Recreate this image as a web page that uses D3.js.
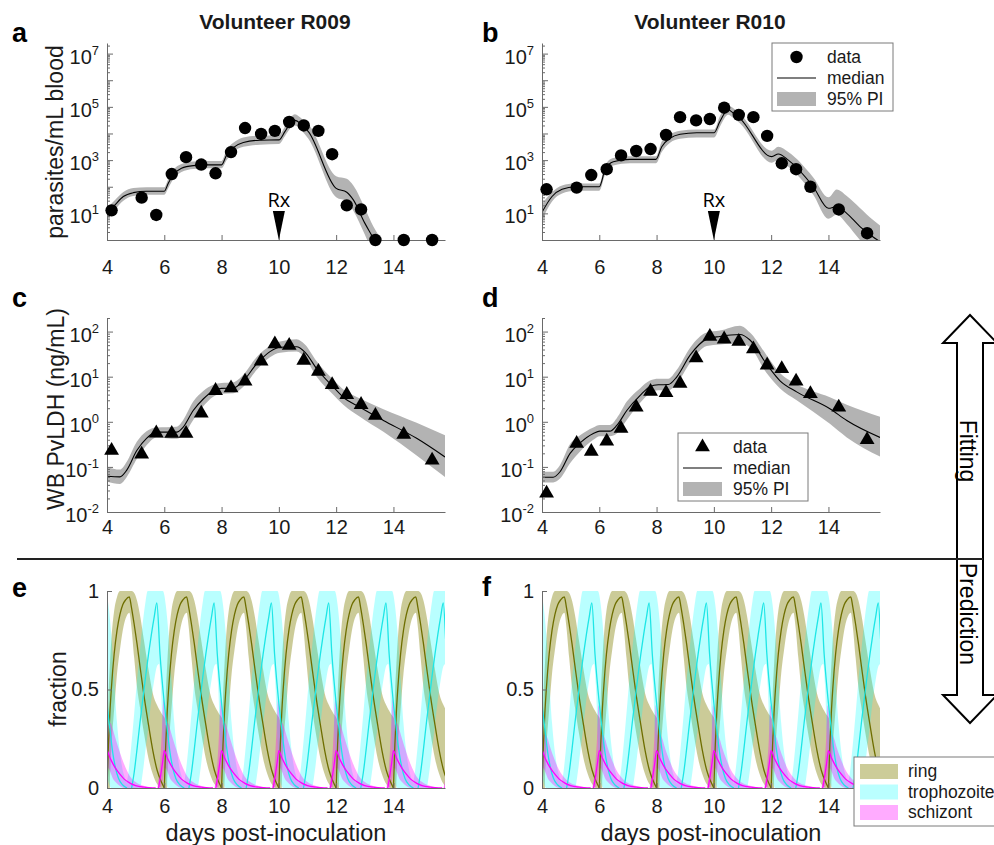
<!DOCTYPE html>
<html lang="en">
<head>
<meta charset="utf-8" />
<script src="https://cdnjs.cloudflare.com/ajax/libs/d3/7.8.5/d3.min.js"></script>
<style>
  body { margin: 0; background: #fff; }
</style>
</head>
<body>
<div id="chart"></div>
<script>
// ---------- data ----------
const dayTicks = [4, 6, 8, 10, 12, 14];
const dayRange = [4, 15.8];
const parRange = [1, 2.5e7];
const parTickVals = [1e1, 1e3, 1e5, 1e7];
const ldhRange = [0.01, 200];
const ldhTickVals = [1e-2, 1e-1, 1e0, 1e1, 1e2];
const fracTicks = [0, 0.5, 1];
const rxDay = 10;

// sampling days (both volunteers)
const sampleDays = [4.16, 5.21, 5.72, 6.26, 6.76, 7.29, 7.79, 8.33, 8.82, 9.38, 9.86, 10.36, 10.87, 11.38, 11.86, 12.37, 12.87, 13.37, 14.36, 15.35];

// parasites/mL blood
const r009Para = [13, 39, 8.7, 300, 1290, 680, 320, 2000, 16000, 9600, 12500, 27000, 20000, 12500, 1670, 20, 14, 1, 1, 1];
const r010Para = [80, 93, 275, 455, 1500, 2200, 2600, 8900, 41000, 31000, 35000, 93000, 50000, 41000, 8100, 760, 455, 100, 14, 1.8];

// WB PvLDH (ng/mL)
const r009Ldh = [0.23, 0.19, 0.56, 0.55, 0.55, 1.55, 4.9, 5.6, 7.9, 22, 53, 49, 23, 13, 6.6, 4, 2.4, 1.38, 0.52, 0.14];
const r010Ldh = [0.026, 0.33, 0.22, 0.37, 0.71, 2.1, 4.7, 4.4, 7.1, 26, 78, 68, 60, 41, 18, 15, 7.9, 4.2, 2.1, 0.4];

// model fits: median and 95% PI
const r009ParaFitDays = [4.0, 4.28, 4.57, 4.92, 5.38, 6.0, 6.14, 6.31, 6.6, 7.01, 7.48, 8.0, 8.18, 8.41, 8.76, 9.34, 10.0, 10.21, 10.45, 10.56, 10.8, 11.03, 12.0, 12.37, 12.6, 13.0, 13.3, 13.6];
const r009ParaMed = [10, 21, 43, 60, 68, 68, 135, 275, 490, 620, 660, 660, 1600, 2950, 4600, 5600, 5750, 11700, 28000, 31000, 21000, 11700, 87, 62, 32, 4.3, 1.15, 0.25];
const r009ParaLo = [6.3, 14, 30, 45, 50, 50, 89, 190, 355, 460, 490, 490, 1000, 2000, 3160, 3800, 4000, 7900, 17800, 20000, 12600, 6300, 40, 28, 12.6, 1.6, 0.3, 0.08];
const r009ParaHi = [16, 32, 63, 89, 95, 95, 200, 420, 710, 890, 930, 930, 2500, 4470, 7080, 8300, 8500, 17800, 44700, 52500, 35500, 22400, 250, 200, 112, 16, 3.2, 1.0];

const r010ParaFitDays = [4.0, 4.35, 4.7, 5.16, 6.0, 6.2, 6.49, 7.07, 7.98, 8.18, 8.47, 8.82, 9.4, 10.01, 10.21, 10.5, 10.68, 10.91, 12.02, 12.25, 12.6, 13.47, 14.0, 14.29, 14.64, 15.1, 15.56, 15.8];
const r010ParaMed = [11, 43, 80, 100, 100, 430, 870, 1070, 1070, 3200, 6600, 9300, 10700, 10700, 28000, 78000, 58000, 37000, 1350, 1700, 1000, 100, 15.5, 18, 10, 3.2, 1.3, 0.87];
const r010ParaLo = [5.6, 28, 56, 71, 71, 280, 630, 760, 760, 2000, 4470, 6300, 7080, 7080, 17800, 50000, 38000, 24000, 790, 1000, 560, 50, 6.3, 8.9, 4, 1, 0.32, 0.16];
const r010ParaHi = [22, 63, 112, 132, 132, 630, 1200, 1410, 1410, 5000, 9300, 12600, 14100, 14100, 44700, 112000, 89000, 56000, 2240, 3160, 2000, 224, 40, 79, 45, 16, 5.6, 3.5];

const r009LdhFitDays = [4.0, 4.45, 4.69, 5.04, 5.38, 5.73, 6.43, 6.66, 7.01, 7.36, 7.71, 8.0, 8.41, 8.76, 9.22, 9.69, 10.04, 10.62, 10.91, 11.32, 11.9, 12.25, 12.83, 13.65, 14.81, 15.8];
const r009LdhMed = [0.062, 0.06, 0.085, 0.23, 0.43, 0.59, 0.59, 0.76, 1.78, 3.2, 4.9, 5.5, 5.6, 8.1, 19, 36, 45, 46, 35, 15, 5.9, 3.5, 2.1, 1.07, 0.43, 0.166];
const r009LdhLo = [0.047, 0.042, 0.06, 0.15, 0.3, 0.45, 0.42, 0.5, 1.1, 2.2, 3.6, 4.2, 4.3, 6, 14, 27, 34, 36, 26, 10, 4, 2.4, 1.3, 0.6, 0.18, 0.06];
const r009LdhHi = [0.1, 0.087, 0.13, 0.36, 0.62, 0.75, 0.78, 1.1, 2.8, 4.8, 6.6, 7.2, 7.5, 11, 27, 48, 60, 68, 52, 22, 8.5, 5.2, 3.3, 1.9, 0.95, 0.5];

const r010LdhFitDays = [4.0, 4.39, 4.63, 4.98, 5.33, 5.79, 6.02, 6.37, 6.61, 6.96, 7.42, 7.77, 8.06, 8.41, 8.7, 9.17, 9.75, 10.21, 10.91, 11.26, 11.84, 12.31, 12.89, 14.05, 14.64, 15.8];
const r010LdhMed = [0.059, 0.059, 0.078, 0.2, 0.34, 0.55, 0.62, 0.62, 0.83, 1.78, 3.8, 6.0, 6.6, 6.7, 9.8, 30, 68, 78, 86, 65, 19, 8.1, 4.6, 1.95, 1.07, 0.45];
const r010LdhLo = [0.045, 0.045, 0.055, 0.12, 0.22, 0.4, 0.48, 0.48, 0.55, 1.1, 2.6, 4.3, 5.0, 5.0, 7, 20, 48, 52, 55, 45, 12, 5.5, 3.0, 0.9, 0.45, 0.17];
const r010LdhHi = [0.078, 0.078, 0.11, 0.32, 0.5, 0.75, 0.85, 0.85, 1.2, 2.8, 5.5, 8.2, 9.0, 9.0, 14, 44, 95, 105, 135, 95, 30, 12, 6.8, 3.5, 2.4, 1.3];

// predicted stage fractions: one 48 h cycle profile (days after cycle start)
const cycleStarts = [2, 4, 6, 8, 10, 12, 14];

const ringPhase = [0, 0.05, 0.1, 0.15, 0.25, 0.35, 0.45, 0.55, 0.65, 0.78, 0.85, 0.95, 1.05, 1.15, 1.3, 1.45, 1.6, 1.75, 1.9, 2.0];
const ringMed = [0, 0.22, 0.38, 0.5, 0.68, 0.8, 0.88, 0.93, 0.955, 0.97, 0.92, 0.83, 0.73, 0.62, 0.46, 0.32, 0.19, 0.09, 0.03, 0];
const ringBandPhase = [0, 0.05, 0.1, 0.15, 0.25, 0.35, 0.45, 0.55, 0.65, 0.78, 0.85, 0.95, 1.05, 1.15, 1.3, 1.45, 1.6, 1.75, 1.9, 2.05, 2.1];
const ringLo = [0, 0, 0.05, 0.2, 0.4, 0.58, 0.7, 0.8, 0.86, 0.89, 0.82, 0.66, 0.51, 0.41, 0.27, 0.15, 0.07, 0.02, 0, 0, 0];
const ringHi = [0.1, 0.45, 0.62, 0.75, 0.9, 0.97, 1, 1, 1, 1, 1, 0.99, 0.95, 0.88, 0.74, 0.6, 0.48, 0.42, 0.38, 0.34, 0.2];

const trophPhase = [0.86, 0.95, 1.05, 1.15, 1.25, 1.35, 1.45, 1.55, 1.65, 1.74, 1.85, 2.0, 2.1, 2.2, 2.3, 2.4, 2.55, 2.7];
const trophMed = [0, 0.08, 0.2, 0.33, 0.45, 0.57, 0.68, 0.78, 0.87, 0.94, 0.68, 0.43, 0.3, 0.18, 0.1, 0.05, 0.015, 0];
const trophBandPhase = [0.65, 0.75, 0.85, 0.95, 1.05, 1.15, 1.25, 1.35, 1.42, 1.55, 1.65, 1.75, 1.82, 1.88, 1.95, 2.0, 2.05, 2.15, 2.25, 2.35, 2.5, 2.65, 2.8];
const trophLo = [0, 0, 0, 0, 0, 0, 0.08, 0.2, 0.28, 0.45, 0.55, 0.62, 0.63, 0.52, 0.25, 0.1, 0.03, 0, 0, 0, 0, 0, 0];
const trophHi = [0, 0.08, 0.22, 0.38, 0.55, 0.7, 0.84, 0.95, 1, 1, 1, 1, 1, 1, 1, 0.98, 0.93, 0.78, 0.55, 0.33, 0.13, 0.04, 0];

const schizPhase = [1.8, 1.87, 1.94, 2.0, 2.1, 2.2, 2.3, 2.45, 2.6, 2.8, 3.0, 3.3, 3.7];
const schizMed = [0, 0.06, 0.13, 0.19, 0.155, 0.125, 0.1, 0.07, 0.045, 0.025, 0.012, 0.004, 0];
const schizBandPhase = [1.75, 1.85, 1.92, 1.97, 2.0, 2.05, 2.12, 2.2, 2.3, 2.45, 2.6, 2.8, 3.0, 3.3, 3.6];
const schizLo = [0, 0, 0.02, 0.06, 0.1, 0.1, 0.08, 0.05, 0.03, 0.01, 0, 0, 0, 0, 0];
const schizHiR009 = [0, 0.12, 0.3, 0.45, 0.43, 0.32, 0.33, 0.3, 0.25, 0.18, 0.12, 0.06, 0.03, 0.01, 0];
const schizHiR010 = [0, 0.1, 0.25, 0.42, 0.4, 0.27, 0.27, 0.25, 0.2, 0.14, 0.09, 0.05, 0.025, 0.01, 0];

// ---------- setup ----------
const FONT = '"Liberation Sans", Arial, Helvetica, sans-serif';
const axisColor = '#6a6a6a';
const textColor = '#1a1a1a';
const bandGray = '#b3b3b3';
const ringFill = '#808000', ringLine = '#6e6e00';
const trophFill = '#00ffff', trophLine = '#1ee6e6';
const schizFill = '#ff00ff', schizLine = '#ff00ff';
const tickFont = 20;

const plotW = 338;
const colLeft = [107, 542];

const svg = d3.select('#chart').append('svg')
    .attr('width', 994)
    .attr('height', 845)
    .style('font-family', FONT);

let clipCount = 0;
function clipFor(x, y) {
    const id = 'clip' + (clipCount++);
    svg.append('clipPath').attr('id', id).append('rect')
        .attr('x', x.range()[0])
        .attr('y', y.range()[1])
        .attr('width', x.range()[1] - x.range()[0])
        .attr('height', y.range()[0] - y.range()[1]);
    return svg.append('g').attr('clip-path', `url(#${id})`);
}

function styleAxis(g) {
    g.attr('font-size', tickFont).attr('font-family', FONT);
    g.select('.domain').attr('stroke', axisColor);
    g.selectAll('.tick line').attr('stroke', axisColor);
    g.selectAll('.tick text').attr('fill', textColor);
}

function drawXAxis(x, y, pad) {
    const g = svg.append('g')
        .attr('transform', `translate(0,${y.range()[0]})`)
        .call(d3.axisBottom(x).tickValues(dayTicks).tickSizeInner(-5).tickSizeOuter(0).tickPadding(pad));
    styleAxis(g);
}

function drawLogYAxis(x, y, labelVals) {
    const left = x.range()[0];
    const all = y.ticks();
    const isDecade = v => Math.abs(Math.log10(v) - Math.round(Math.log10(v))) < 1e-6;
    const gMinor = svg.append('g').attr('transform', `translate(${left},0)`)
        .call(d3.axisLeft(y).tickValues(all.filter(v => !isDecade(v))).tickSizeInner(-3).tickSizeOuter(0).tickFormat(''));
    styleAxis(gMinor);
    gMinor.select('.domain').remove();
    const gMajor = svg.append('g').attr('transform', `translate(${left},0)`)
        .call(d3.axisLeft(y).tickValues(all.filter(isDecade)).tickSizeInner(-6).tickSizeOuter(0).tickFormat(''));
    styleAxis(gMajor);

    const lab = svg.append('g').attr('fill', textColor).attr('text-anchor', 'end');
    labelVals.forEach(v => {
        const t = lab.append('text').attr('x', left - 8).attr('y', y(v) + 10).attr('font-size', tickFont);
        t.append('tspan').text('10');
        t.append('tspan').attr('dy', -9).attr('font-size', 13).text(Math.round(Math.log10(v)));
    });
}

function drawFit(plot, x, y, days, med, lo, hi) {
    const pts = days.map((t, i) => ({ t, m: med[i], lo: lo[i], hi: hi[i] }));
    plot.append('path').datum(pts)
        .attr('fill', bandGray)
        .attr('d', d3.area().curve(d3.curveMonotoneX).x(d => x(d.t)).y0(d => y(d.lo)).y1(d => y(d.hi)));
    plot.append('path').datum(pts)
        .attr('fill', 'none').attr('stroke', '#000').attr('stroke-width', 1.1)
        .attr('d', d3.line().curve(d3.curveMonotoneX).x(d => x(d.t)).y(d => y(d.m)));
}

const triangle = d3.symbol().type(d3.symbolTriangle).size(95);

function drawLogPanel(o) {
    const x = d3.scaleLinear().domain(dayRange).range([o.left, o.left + plotW]);
    const y = d3.scaleLog().domain(o.domain).range([o.bottom, o.top]);
    const plot = clipFor(x, y);
    drawFit(plot, x, y, o.fitDays, o.med, o.lo, o.hi);
    drawXAxis(x, y, o.pad);
    drawLogYAxis(x, y, o.tickVals);

    const pts = sampleDays.map((t, i) => ({ t, v: o.obs[i] }));
    if (o.marker === 'circle') {
        svg.append('g').selectAll('circle').data(pts).enter().append('circle')
            .attr('cx', d => x(d.t)).attr('cy', d => y(d.v)).attr('r', 6.2).attr('fill', '#000');
    } else {
        svg.append('g').selectAll('path').data(pts).enter().append('path')
            .attr('d', triangle)
            .attr('transform', d => `translate(${x(d.t)},${y(d.v)})`)
            .attr('fill', '#000');
    }

    if (o.rx) {
        const xr = x(rxDay), yb = y.range()[0];
        svg.append('path')
            .attr('d', `M${xr - 6},${yb - 29}L${xr + 6},${yb - 29}L${xr},${yb}Z`)
            .attr('fill', '#000');
        svg.append('text').attr('x', xr).attr('y', yb - 33)
            .attr('text-anchor', 'middle').attr('font-size', 20)
            .attr('font-family', '"Open Sans", Lato, sans-serif')
            .attr('fill', '#000').text('Rx');
    }
    return { x, y };
}

function drawFractionPanel(left, schizHi) {
    const x = d3.scaleLinear().domain(dayRange).range([left, left + plotW]);
    const y = d3.scaleLinear().domain([0, 1]).range([788, 591]);
    const plot = clipFor(x, y);
    const stages = [
        { fill: ringFill, alpha: 0.4, line: ringLine, bp: ringBandPhase, lo: ringLo, hi: ringHi, p: ringPhase, m: ringMed },
        { fill: trophFill, alpha: 0.27, line: trophLine, bp: trophBandPhase, lo: trophLo, hi: trophHi, p: trophPhase, m: trophMed },
        { fill: schizFill, alpha: 0.33, line: schizLine, bp: schizBandPhase, lo: schizLo, hi: schizHi, p: schizPhase, m: schizMed }
    ];
    const area = d3.area().curve(d3.curveMonotoneX).x(d => x(d.t)).y0(d => y(d.lo)).y1(d => y(d.hi));
    const line = d3.line().curve(d3.curveMonotoneX).x(d => x(d.t)).y(d => y(d.v));

    stages.forEach(s => {
        const g = plot.append('g').attr('opacity', s.alpha);
        cycleStarts.forEach(c => {
            const pts = s.bp.map((p, i) => ({ t: c + p, lo: s.lo[i], hi: s.hi[i] }));
            g.append('path').datum(pts).attr('d', area).attr('fill', s.fill);
        });
    });
    stages.forEach(s => {
        cycleStarts.forEach(c => {
            const pts = s.p.map((p, i) => ({ t: c + p, v: s.m[i] }));
            plot.append('path').datum(pts).attr('d', line)
                .attr('fill', 'none').attr('stroke', s.line).attr('stroke-width', 1.3);
        });
    });

    drawXAxis(x, y, 11);
    const gy = svg.append('g').attr('transform', `translate(${left},0)`)
        .call(d3.axisLeft(y).tickValues(fracTicks).tickSizeInner(-5).tickSizeOuter(0).tickPadding(8).tickFormat(d3.format('')));
    styleAxis(gy);
}

// ---------- panels ----------
drawLogPanel({ left: colLeft[0], top: 43, bottom: 240, domain: parRange, tickVals: parTickVals,
    fitDays: r009ParaFitDays, med: r009ParaMed, lo: r009ParaLo, hi: r009ParaHi,
    obs: r009Para, marker: 'circle', rx: true, pad: 20 });
drawLogPanel({ left: colLeft[1], top: 43, bottom: 240, domain: parRange, tickVals: parTickVals,
    fitDays: r010ParaFitDays, med: r010ParaMed, lo: r010ParaLo, hi: r010ParaHi,
    obs: r010Para, marker: 'circle', rx: true, pad: 20 });
drawLogPanel({ left: colLeft[0], top: 318, bottom: 512, domain: ldhRange, tickVals: ldhTickVals,
    fitDays: r009LdhFitDays, med: r009LdhMed, lo: r009LdhLo, hi: r009LdhHi,
    obs: r009Ldh, marker: 'triangle', rx: false, pad: 8 });
drawLogPanel({ left: colLeft[1], top: 318, bottom: 512, domain: ldhRange, tickVals: ldhTickVals,
    fitDays: r010LdhFitDays, med: r010LdhMed, lo: r010LdhLo, hi: r010LdhHi,
    obs: r010Ldh, marker: 'triangle', rx: false, pad: 8 });
drawFractionPanel(colLeft[0], schizHiR009);
drawFractionPanel(colLeft[1], schizHiR010);

// ---------- text ----------
const txt = svg.append('g').attr('fill', textColor);
txt.append('text').attr('x', 275).attr('y', 29).attr('text-anchor', 'middle')
    .attr('font-size', 21).attr('font-weight', 'bold').text('Volunteer R009');
txt.append('text').attr('x', 710).attr('y', 29).attr('text-anchor', 'middle')
    .attr('font-size', 21).attr('font-weight', 'bold').text('Volunteer R010');

[['a', 12, 42], ['b', 482, 42], ['c', 12, 307], ['d', 482, 307], ['e', 12, 597], ['f', 482, 596]]
    .forEach(([l, lx, ly]) => {
        txt.append('text').attr('x', lx).attr('y', ly).attr('font-size', 27)
            .attr('font-weight', 'bold').attr('fill', '#000').text(l);
    });

[['parasites/mL blood', 63, 142], ['WB PvLDH (ng/mL)', 64, 409], ['fraction', 66, 689]]
    .forEach(([s, bx, cy]) => {
        txt.append('text').attr('transform', `translate(${bx},${cy}) rotate(-90)`)
            .attr('text-anchor', 'middle').attr('font-size', 23).text(s);
    });
txt.append('text').attr('x', 276).attr('y', 841).attr('text-anchor', 'middle').attr('font-size', 23.5).text('days post-inoculation');
txt.append('text').attr('x', 711).attr('y', 841).attr('text-anchor', 'middle').attr('font-size', 23.5).text('days post-inoculation');

// ---------- legends ----------
function legendBox(x0, y0, w, h) {
    svg.append('rect').attr('x', x0).attr('y', y0).attr('width', w).attr('height', h)
        .attr('fill', '#fff').attr('stroke', '#7a7a7a').attr('stroke-width', 1);
}
function fitLegend(x0, y0, w, marker) {
    legendBox(x0, y0, w, 68);
    const s0 = x0 + 5, s1 = x0 + 44, tx = x0 + 55;
    if (marker === 'circle') {
        svg.append('circle').attr('cx', (s0 + s1) / 2).attr('cy', y0 + 14).attr('r', 6.2).attr('fill', '#000');
    } else {
        svg.append('path').attr('d', triangle).attr('transform', `translate(${(s0 + s1) / 2},${y0 + 14})`).attr('fill', '#000');
    }
    svg.append('line').attr('x1', s0).attr('x2', s1).attr('y1', y0 + 35).attr('y2', y0 + 35)
        .attr('stroke', '#000').attr('stroke-width', 1.1);
    svg.append('rect').attr('x', s0).attr('y', y0 + 49).attr('width', s1 - s0).attr('height', 14).attr('fill', bandGray);
    ['data', 'median', '95% PI'].forEach((s, i) => {
        svg.append('text').attr('x', tx).attr('y', y0 + 20 + i * 21).attr('font-size', 17.5)
            .attr('fill', textColor).text(s);
    });
}
fitLegend(772, 43, 121, 'circle');
fitLegend(678, 433, 130, 'triangle');

legendBox(854, 757, 150, 69);
[['ring', ringFill, 0.4], ['trophozoite', trophFill, 0.27], ['schizont', schizFill, 0.33]]
    .forEach(([s, c, a], i) => {
        svg.append('rect').attr('x', 860).attr('y', 764 + i * 20.5).attr('width', 38).attr('height', 15)
            .attr('fill', c).attr('opacity', a);
        svg.append('text').attr('x', 908).attr('y', 777 + i * 20.5).attr('font-size', 17.5)
            .attr('fill', textColor).text(s);
    });

// ---------- fitting / prediction divider ----------
svg.append('path')
    .attr('d', 'M957,559V343H943L970,315L997,343H983V559Z')
    .attr('fill', '#fff').attr('stroke', '#000').attr('stroke-width', 2);
svg.append('path')
    .attr('d', 'M957,559V695H943L970,723L997,695H983V559Z')
    .attr('fill', '#fff').attr('stroke', '#000').attr('stroke-width', 2);
svg.append('line').attr('x1', 17).attr('x2', 983).attr('y1', 559).attr('y2', 559)
    .attr('stroke', '#222').attr('stroke-width', 2);
[['Fitting', 451], ['Prediction', 614]].forEach(([s, cy]) => {
    svg.append('text').attr('transform', `translate(960,${cy}) rotate(90)`)
        .attr('text-anchor', 'middle').attr('font-size', 23).attr('fill', '#000').text(s);
});
</script>
</body>
</html>
